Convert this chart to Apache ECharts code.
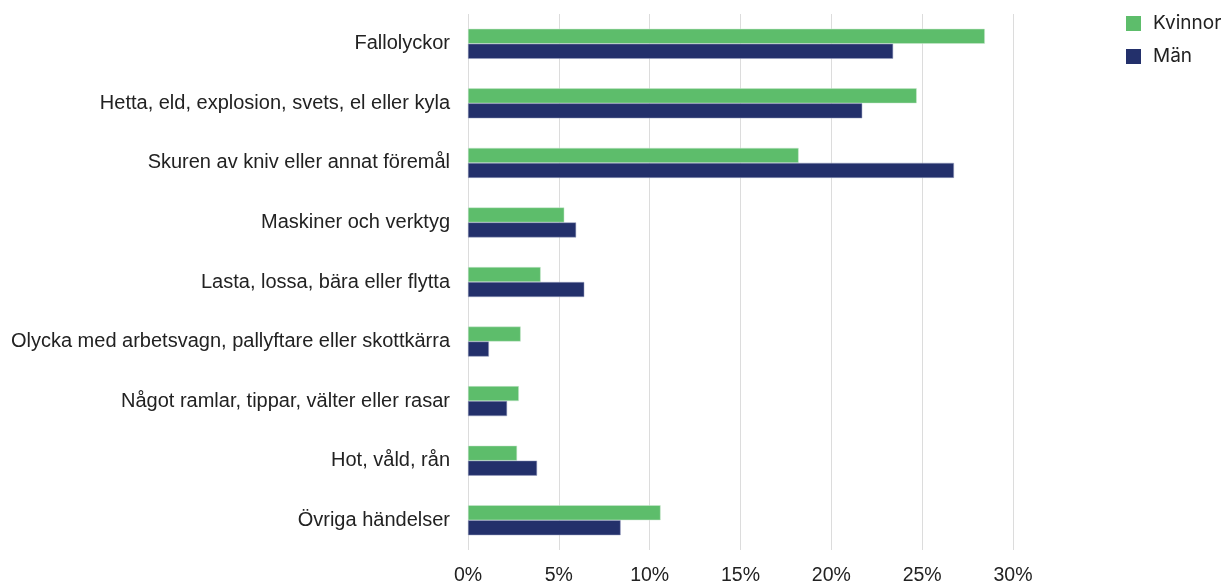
<!DOCTYPE html>
<html>
<head>
<meta charset="utf-8">
<script src="https://cdn.jsdelivr.net/npm/echarts@6/dist/echarts.min.js"></script>
<style>
html, body { margin: 0; padding: 0; background: #fff; }
#main { width: 1227px; height: 582px; }
</style>
</head>
<body>
<div id="main"></div>
<script>
var categories = [
    'Fallolyckor',
    'Hetta, eld, explosion, svets, el eller kyla',
    'Skuren av kniv eller annat föremål',
    'Maskiner och verktyg',
    'Lasta, lossa, bära eller flytta',
    'Olycka med arbetsvagn, pallyftare eller skottkärra',
    'Något ramlar, tippar, välter eller rasar',
    'Hot, våld, rån',
    'Övriga händelser'
];
var kvinnor = [28.45, 24.7, 18.2, 5.3, 4.0, 2.9, 2.8, 2.7, 10.6];
var man = [23.4, 21.7, 26.75, 5.95, 6.4, 1.15, 2.15, 3.8, 8.4];
var seriesNames = ['Kvinnor', 'Män'];

var myChart = echarts.init(document.getElementById('main'));
var option = {
    backgroundColor: '#fff',
    textStyle: { fontFamily: 'Liberation Sans, Arial, sans-serif' },
    legend: {
        orient: 'vertical',
        left: 1121,
        top: 9,
        itemWidth: 15,
        itemHeight: 15,
        itemGap: 14,
        icon: 'rect',
        itemStyle: { borderWidth: 0 },
        textStyle: { fontSize: 19, color: '#222', fontFamily: 'Inter, sans-serif', padding: [0, 0, 0, 7] },
        data: seriesNames
    },
    grid: {
        left: 468,
        right: 214,
        top: 14,
        bottom: 32,
        outerBoundsMode: 'none'
    },
    xAxis: {
        type: 'value',
        min: 0,
        max: 30,
        interval: 5,
        axisLine: { show: false },
        axisTick: { show: false },
        splitLine: { lineStyle: { color: '#dcdcdc', width: 1 } },
        axisLabel: {
            formatter: '{value}%',
            fontSize: 19.5,
            color: '#222',
            margin: 16
        }
    },
    yAxis: {
        type: 'category',
        inverse: true,
        data: categories,
        axisLine: { show: false },
        axisTick: { show: false },
        axisLabel: { fontSize: 20, color: '#222', margin: 18 }
    },
    series: [
        {
            name: seriesNames[0],
            type: 'bar',
            data: kvinnor,
            barWidth: 15,
            barGap: '0%',
            itemStyle: { color: '#5dbd6b', borderColor: '#cfe9d3', borderWidth: 0.5 }
        },
        {
            name: seriesNames[1],
            type: 'bar',
            data: man,
            barWidth: 15,
            itemStyle: { color: '#23306b', borderColor: '#9aa0c0', borderWidth: 0.5 }
        }
    ]
};
myChart.setOption(option);
</script>
</body>
</html>
